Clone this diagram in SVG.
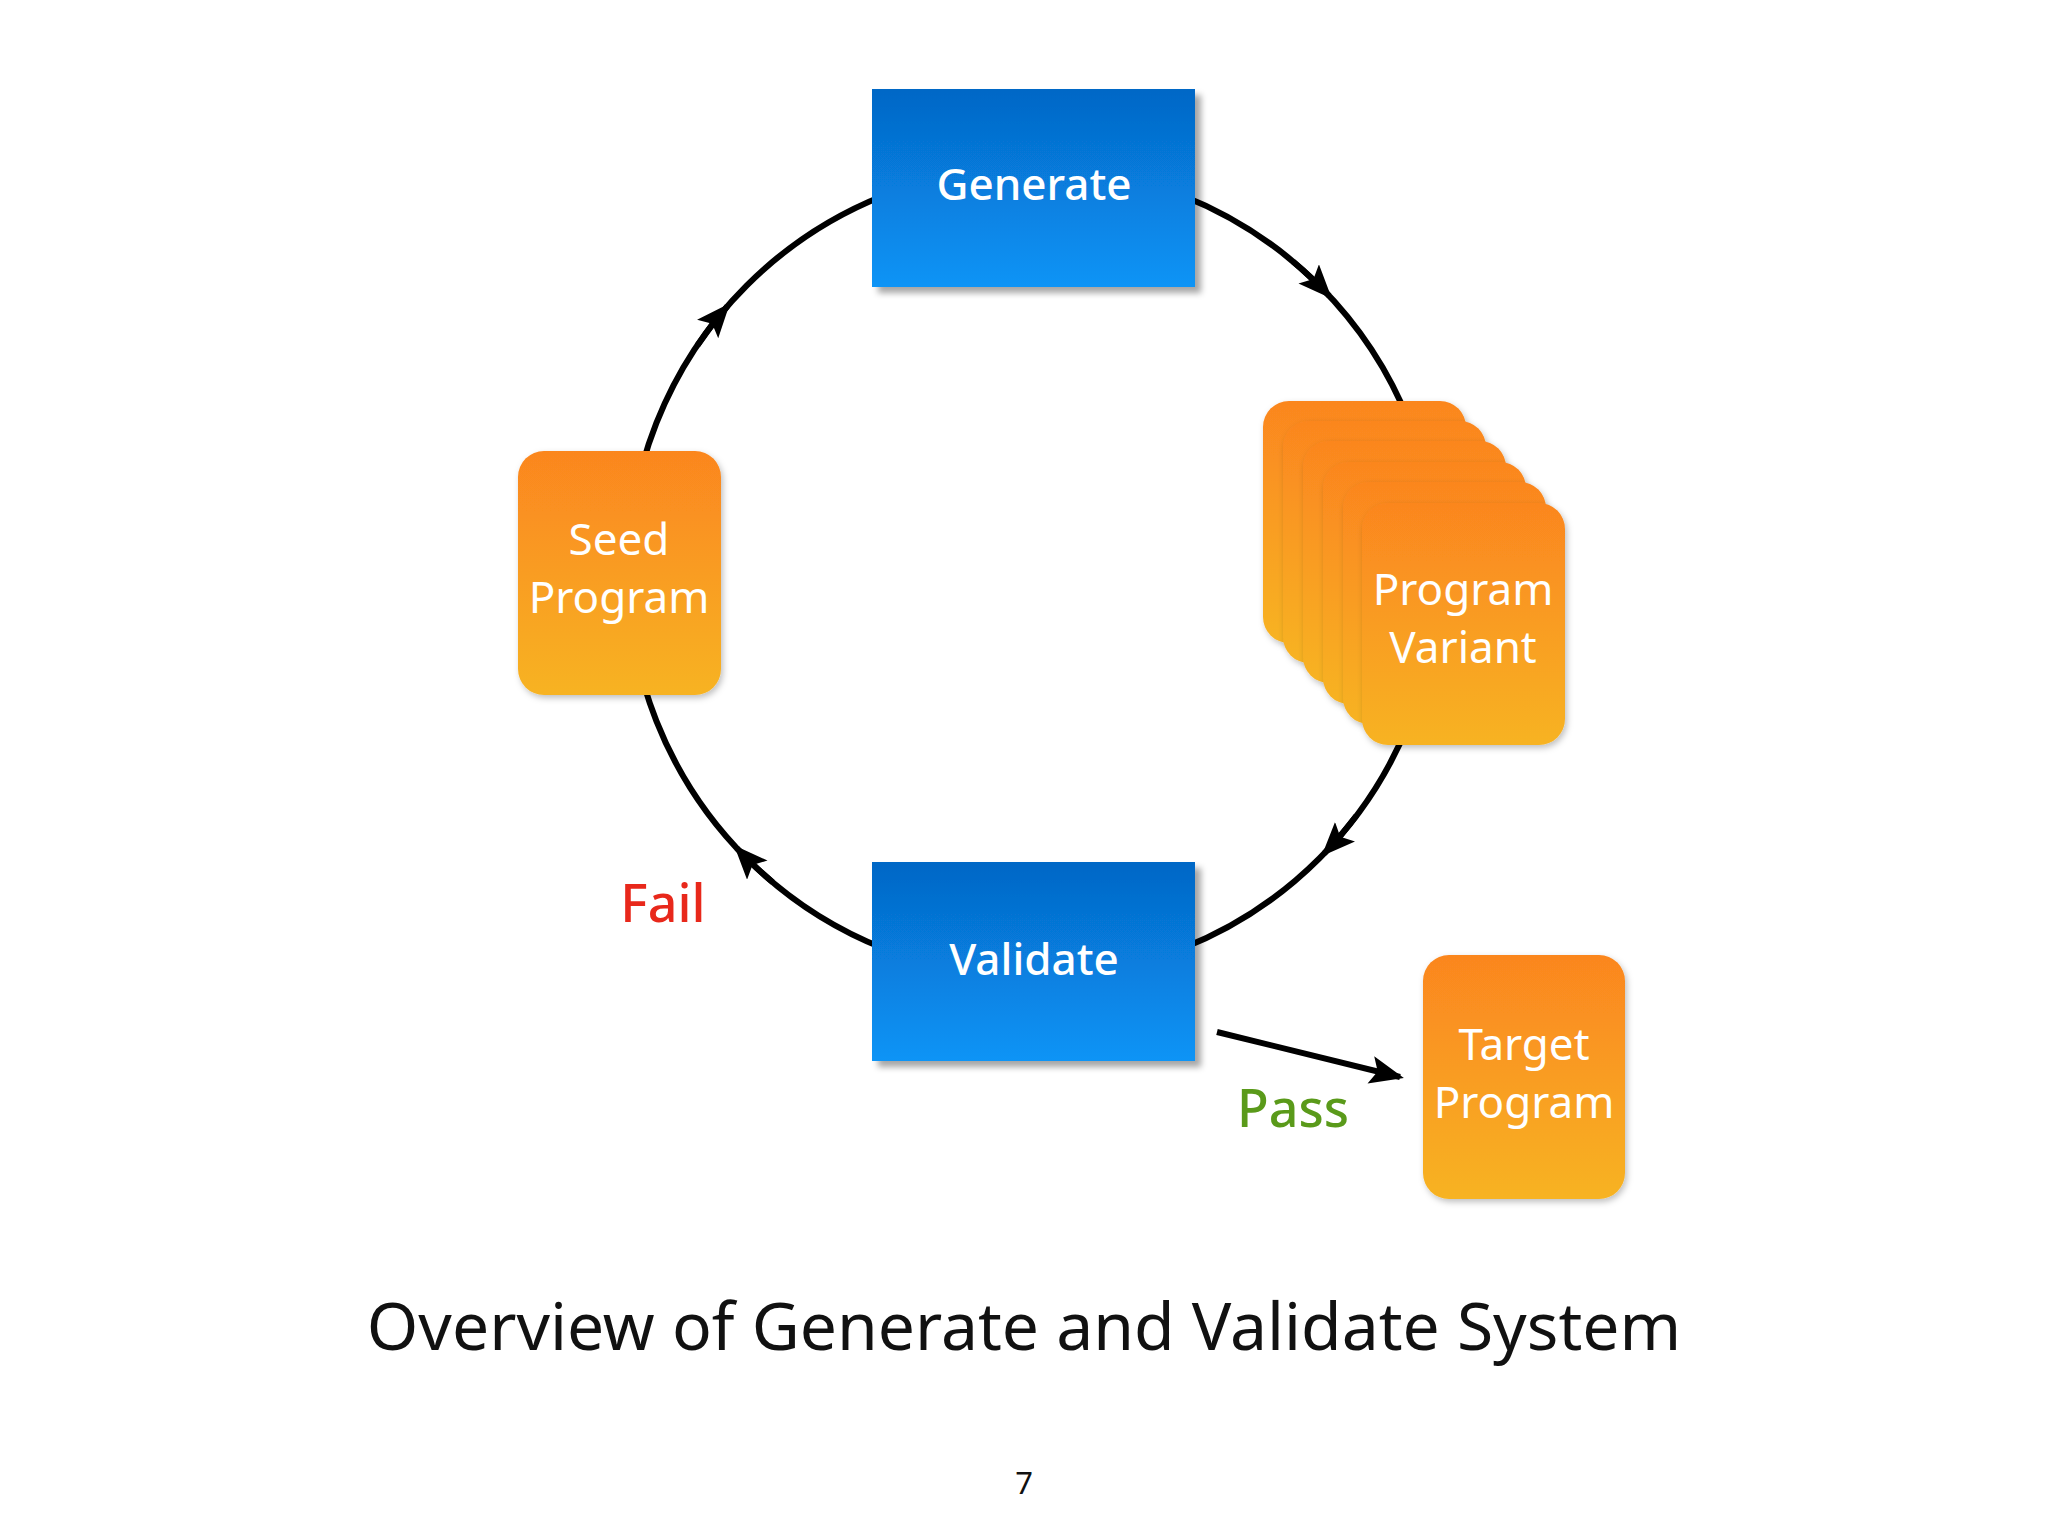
<svg xmlns="http://www.w3.org/2000/svg" width="2048" height="1536" viewBox="0 0 2048 1536">
<defs>
<linearGradient id="blue" x1="0" y1="0" x2="0" y2="1"><stop offset="0" stop-color="#0567c6"/><stop offset="1" stop-color="#0994f6"/></linearGradient>
<linearGradient id="orange" x1="0" y1="0" x2="0" y2="1"><stop offset="0" stop-color="#fb861f"/><stop offset="1" stop-color="#f7b323"/></linearGradient>
<filter id="sh" x="-10%" y="-10%" width="130%" height="130%"><feDropShadow dx="6" dy="6" stdDeviation="3" flood-color="#000" flood-opacity="0.35"/></filter>
<filter id="sh2" x="-10%" y="-10%" width="130%" height="130%"><feDropShadow dx="2" dy="3" stdDeviation="3" flood-color="#000" flood-opacity="0.25"/></filter>
<marker id="ah" markerUnits="userSpaceOnUse" markerWidth="40" markerHeight="40" refX="30" refY="14" orient="auto"><path d="M0,0 L34,14 L0,28 L7,14 Z" fill="#000"/></marker>
<style>
.bl{fill:url(#blue);filter:url(#sh)}
.or{fill:url(#orange);filter:url(#sh2)}
.t{font-family:"Noto Sans","DejaVu Sans",sans-serif;text-anchor:middle}
.w{fill:#fff;font-size:44px}
.line{fill:none;stroke:#000;stroke-width:6}
</style>
</defs>
<rect width="2048" height="1536" fill="#fff"/>
<g id="connectors">
<circle class="line" cx="1033" cy="572" r="405"/>
<path class="line" d="M1293.3,261.8 A405,405 0 0 1 1329.2,295.8" marker-end="url(#ah)"/>
<path class="line" d="M1356.4,815.7 A405,405 0 0 1 1324.3,853.4" marker-end="url(#ah)"/>
<path class="line" d="M772.7,882.2 A405,405 0 0 1 736.8,848.2" marker-end="url(#ah)"/>
<path class="line" d="M697.3,345.5 A405,405 0 0 1 727.3,306.3" marker-end="url(#ah)"/>
<path class="line" d="M1217,1032 L1400,1077" marker-end="url(#ah)"/>
</g>
<g id="generate"><rect class="bl" x="872" y="89" width="323" height="198"/><text class="t w" x="1034" y="200" font-weight="500">Generate</text></g>
<g id="validate"><rect class="bl" x="872" y="862" width="323" height="199"/><text class="t w" x="1034" y="975" font-weight="500">Validate</text></g>
<g id="seed"><rect class="or" x="518" y="451" width="203" height="244" rx="26"/><text class="t w" x="619" y="555">Seed</text><text class="t w" x="619" y="613">Program</text></g>
<g id="variant">
<rect class="or" x="1263" y="401" width="203" height="242" rx="26"/>
<rect class="or" x="1283" y="421" width="203" height="242" rx="26"/>
<rect class="or" x="1303" y="441" width="203" height="242" rx="26"/>
<rect class="or" x="1323" y="462" width="203" height="242" rx="26"/>
<rect class="or" x="1343" y="482" width="203" height="242" rx="26"/>
<rect class="or" x="1362" y="503" width="203" height="242" rx="26"/>
<text class="t w" x="1463" y="605">Program</text><text class="t w" x="1463" y="663">Variant</text></g>
<g id="target"><rect class="or" x="1423" y="955" width="202" height="244" rx="26"/><text class="t w" x="1524" y="1060">Target</text><text class="t w" x="1524" y="1118">Program</text></g>
<text class="t" x="663" y="922" font-size="52" font-weight="500" fill="#e8281b">Fail</text>
<text class="t" x="1293" y="1127" font-size="52" font-weight="500" fill="#5a9a1a">Pass</text>
<text class="t" x="1024" y="1350" font-size="66" fill="#111">Overview of Generate and Validate System</text>
<text class="t" x="1024" y="1494" font-size="31" fill="#111">7</text>
</svg>
